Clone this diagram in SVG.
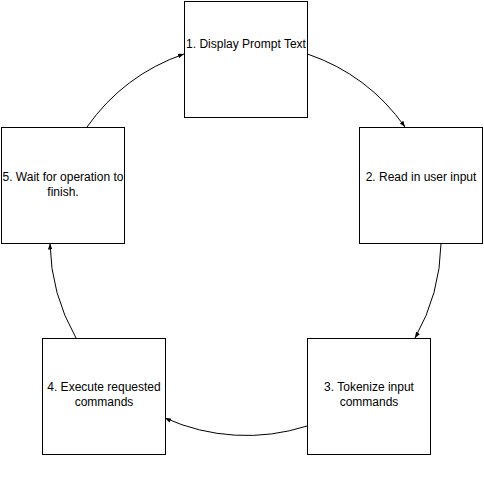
<svg xmlns="http://www.w3.org/2000/svg" width="484" height="490" viewBox="0 0 484 490">
<style>
.box{fill:#fff;stroke:#000;stroke-width:1}
.lbl{font-family:"Liberation Sans",Arial,sans-serif;font-size:12px;fill:#000;text-anchor:middle}
.edge{fill:none;stroke:#000;stroke-width:1}
</style>
<defs>
<marker id="arr" viewBox="0 0 8 6" refX="8" refY="3" markerWidth="6" markerHeight="4.5" orient="auto" markerUnits="userSpaceOnUse">
<path d="M0,0 L8,3 L0,6 Z" fill="#000"/>
</marker>
</defs>
<rect width="484" height="490" fill="#fff"/>
<g id="connectors">
<path class="edge" d="M307.5,54 A198,198 0 0 1 405,127" marker-end="url(#arr)"/>
<path class="edge" d="M441,243.5 A198,198 0 0 1 415,338" marker-end="url(#arr)"/>
<path class="edge" d="M307,426 A198,198 0 0 1 165,418" marker-end="url(#arr)"/>
<path class="edge" d="M76,338 A198,198 0 0 1 50,243.5" marker-end="url(#arr)"/>
<path class="edge" d="M87,127 A198,198 0 0 1 184,54" marker-end="url(#arr)"/>
</g>
<g id="node1">
<rect class="box" x="184.5" y="1.5" width="123" height="116"/>
<text class="lbl" x="246" y="48">1. Display Prompt Text</text>
</g>
<g id="node2">
<rect class="box" x="359.5" y="127.5" width="123" height="116"/>
<text class="lbl" x="421" y="181">2. Read in user input</text>
</g>
<g id="node3">
<rect class="box" x="307.5" y="338.5" width="123" height="116"/>
<text class="lbl" x="369" y="391">3. Tokenize input</text>
<text class="lbl" x="369" y="406">commands</text>
</g>
<g id="node4">
<rect class="box" x="42.5" y="338.5" width="123" height="116"/>
<text class="lbl" x="104" y="391">4. Execute requested</text>
<text class="lbl" x="104" y="406">commands</text>
</g>
<g id="node5">
<rect class="box" x="1.5" y="127.5" width="123" height="116"/>
<text class="lbl" x="63" y="181">5. Wait for operation to</text>
<text class="lbl" x="63" y="196">finish.</text>
</g>
</svg>
